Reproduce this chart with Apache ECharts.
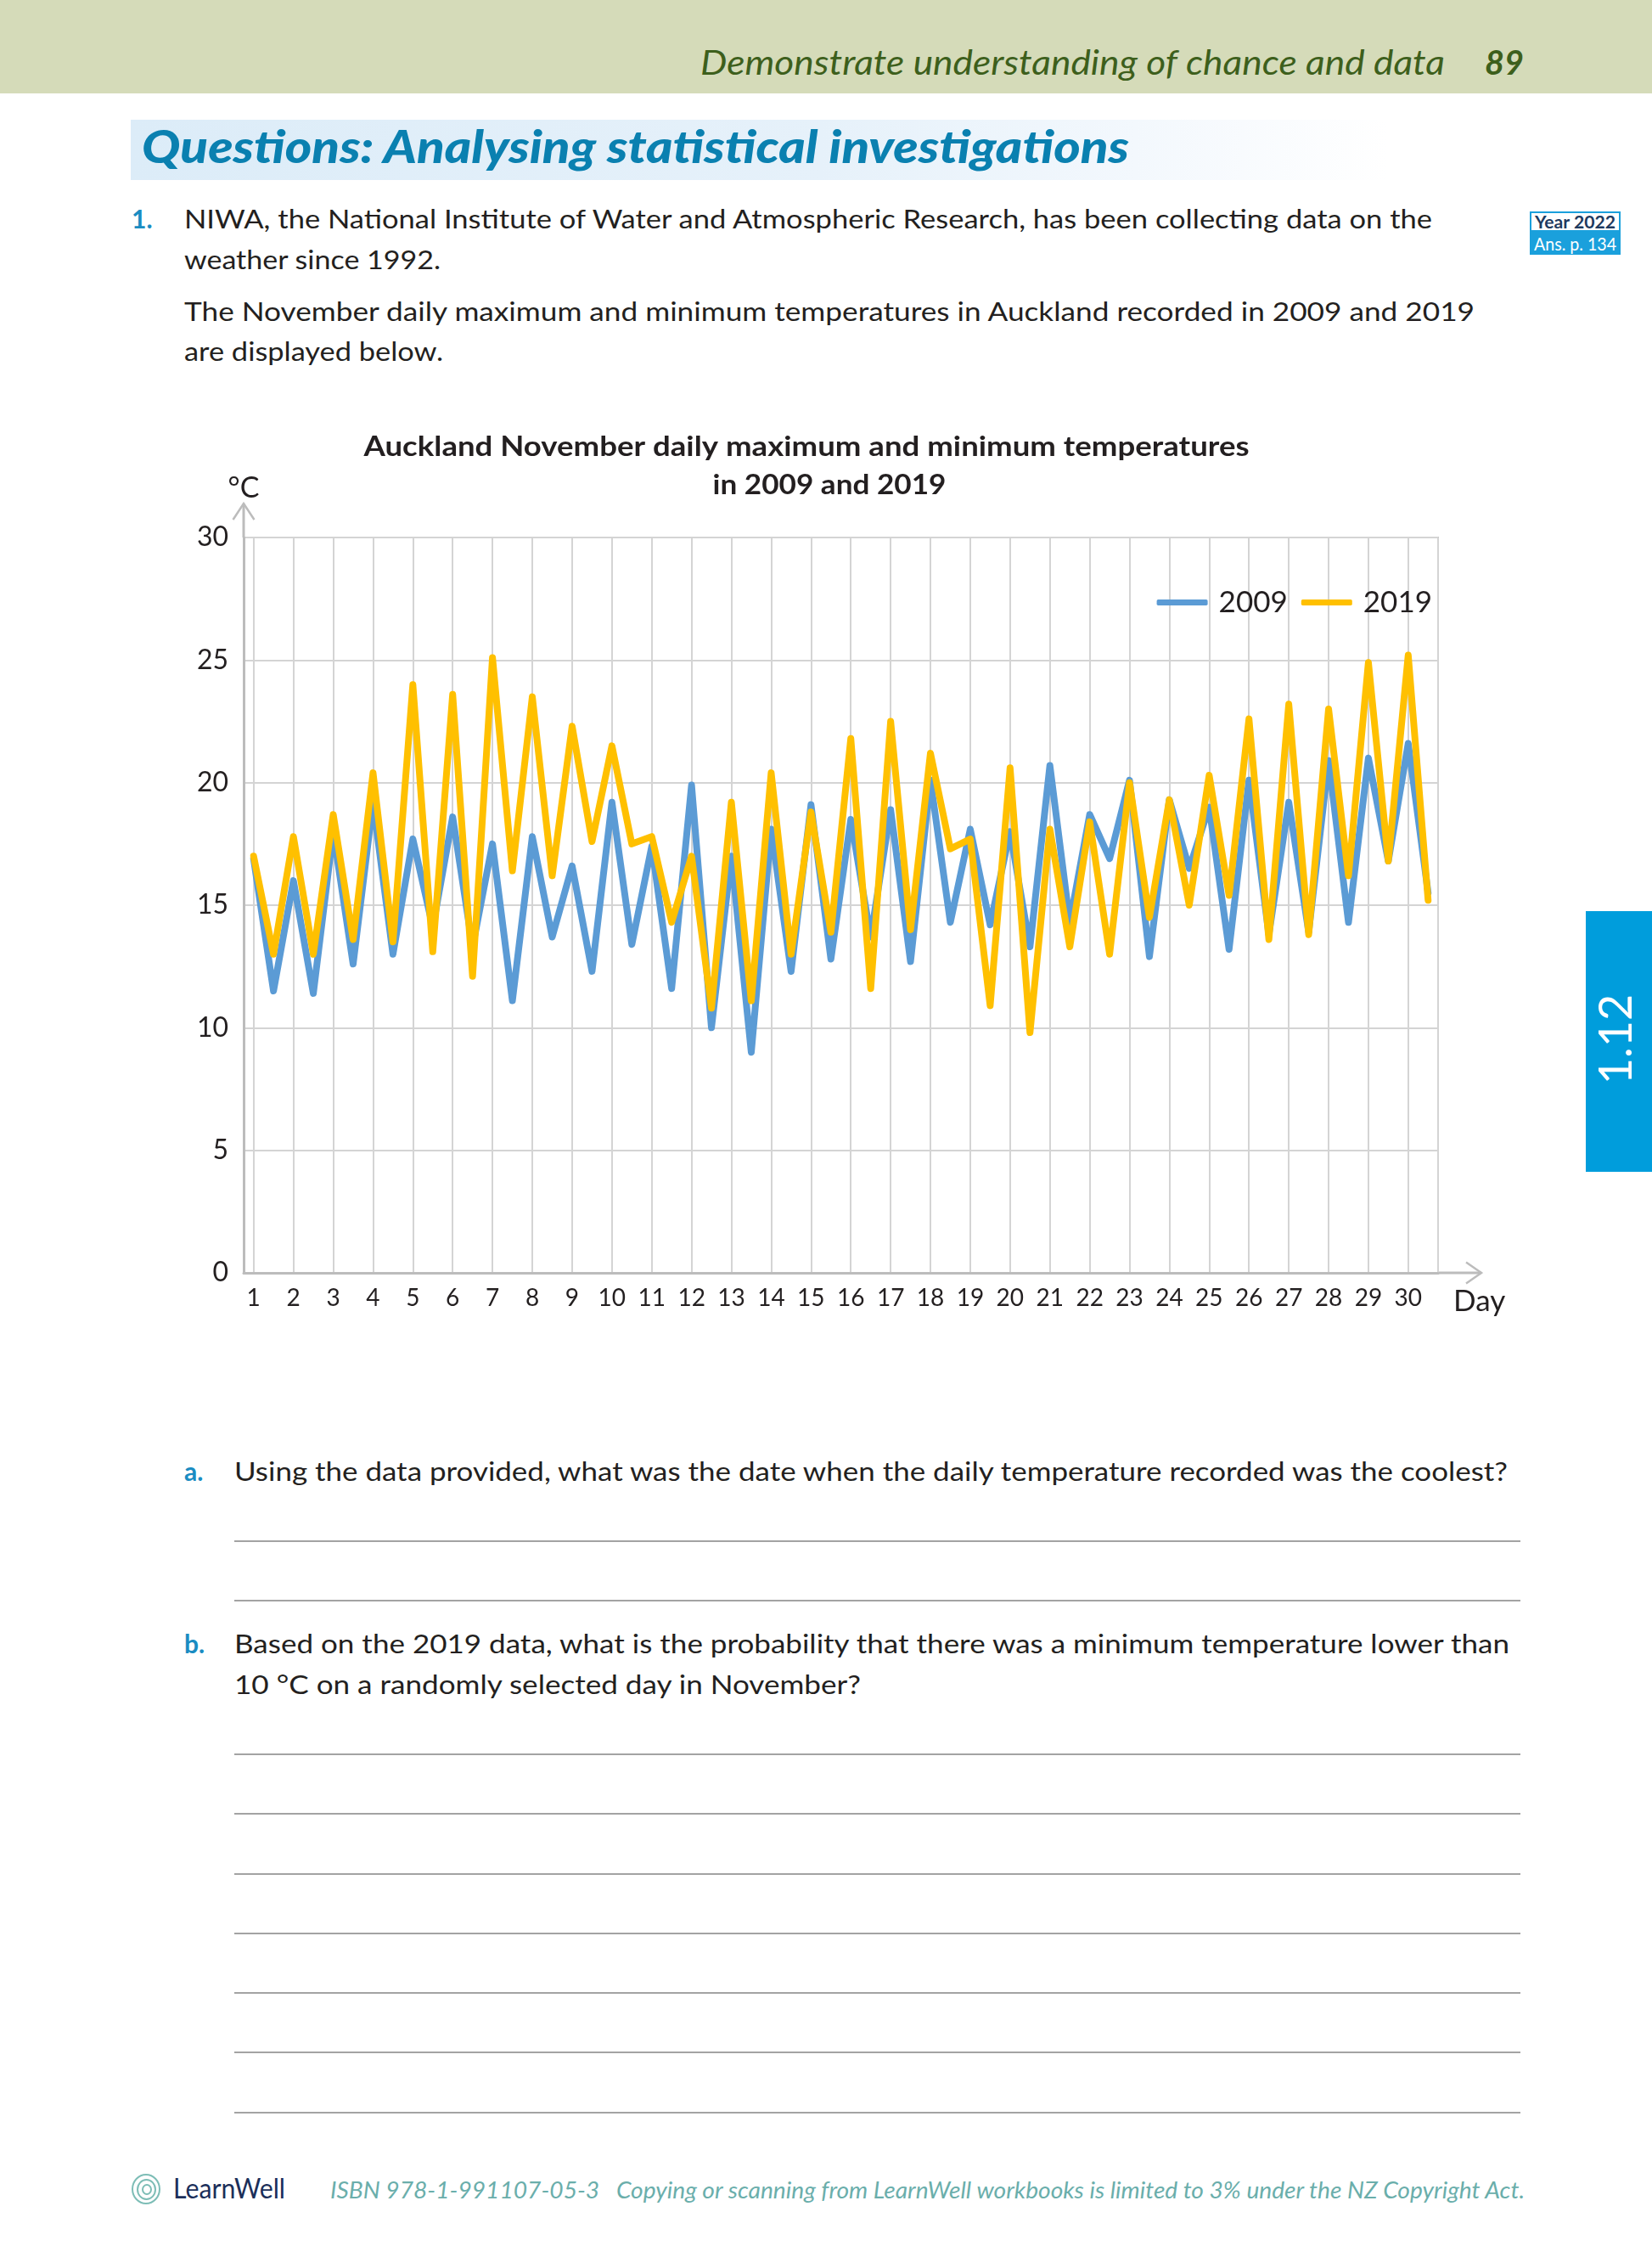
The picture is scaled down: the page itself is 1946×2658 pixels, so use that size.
<!DOCTYPE html>
<html>
<head>
<meta charset="utf-8">
<script src="https://cdn.jsdelivr.net/npm/echarts@6/dist/echarts.min.js"></script>
<style>
html,body{margin:0;padding:0;background:#fff;}
body{width:1946px;height:2658px;position:relative;overflow:hidden;font-family:Lato,"Open Sans",sans-serif;color:#231f20;}
.t{position:absolute;white-space:nowrap;line-height:1;transform-origin:0 0;}
.hdr{position:absolute;left:0;top:0;width:1946px;height:110px;background:#d5dbb9;}
.titlebox{position:absolute;left:154px;top:141px;width:1480px;height:71px;background:linear-gradient(to right,#dcecf8 0%,#e6f1fa 55%,#f3f8fd 80%,#ffffff 100%);}
.rule{position:absolute;left:276px;width:1515px;height:0;border-top:2px solid #a3a3a3;}
.blue{color:#1a8cc2;}
#chart{position:absolute;left:0;top:480px;width:1946px;height:1100px;}
.tab{position:absolute;left:1868px;top:1073px;width:78px;height:307px;background:#009ddc;}
</style>
</head>
<body>
<div class="hdr"></div>
<div class="t fit" data-w="877" style="left:825px;top:53px;font-size:40px;font-style:italic;color:#3d5f1c;">Demonstrate understanding of chance and data</div>
<div class="t fit" data-w="46" style="left:1749px;top:53px;font-size:40px;font-style:italic;font-weight:bold;color:#3d5f1c;">89</div>

<div class="titlebox"></div>
<div class="t fit" data-w="1163" style="left:167px;top:145px;font-size:54px;font-style:italic;font-weight:900;color:#0a80b0;">Questions: Analysing statistical investigations</div>

<div class="t blue" style="left:155px;top:242px;font-size:30px;font-weight:bold;">1.</div>
<div class="t fit" data-w="1470" style="left:217px;top:242px;font-size:30px;">NIWA, the National Institute of Water and Atmospheric Research, has been collecting data on the</div>
<div class="t fit" data-w="302" style="left:217px;top:290px;font-size:30px;">weather since 1992.</div>
<div class="t fit" data-w="1520" style="left:217px;top:351px;font-size:30px;">The November daily maximum and minimum temperatures in Auckland recorded in 2009 and 2019</div>
<div class="t fit" data-w="305" style="left:217px;top:398px;font-size:30px;">are displayed below.</div>

<div style="position:absolute;left:1802px;top:249px;width:103px;height:20px;border:2px solid #1aa0dc;background:#fff;"></div>
<div class="t fit" data-w="95" style="left:1808px;top:250px;font-size:21px;font-weight:bold;color:#1e3a5f;">Year 2022</div>
<div style="position:absolute;left:1802px;top:273px;width:107px;height:27px;background:#1aa0dc;"></div>
<div class="t fit" data-w="97" style="left:1807px;top:276px;font-size:22px;color:#fff;">Ans. p. 134</div>

<div class="tab"></div>
<div class="t" style="left:1902px;top:1224px;font-size:54px;color:#fff;transform:translate(-50%,-50%) rotate(-90deg);transform-origin:50% 50%;">1.12</div>

<div id="chart"></div>

<div class="t blue" style="left:217px;top:1717px;font-size:30px;font-weight:bold;">a.</div>
<div class="t fit" data-w="1500" style="left:276px;top:1717px;font-size:30px;">Using the data provided, what was the date when the daily temperature recorded was the coolest?</div>
<div class="rule" style="top:1814px;"></div>
<div class="rule" style="top:1884px;"></div>

<div class="t blue" style="left:217px;top:1920px;font-size:30px;font-weight:bold;">b.</div>
<div class="t fit" data-w="1502" style="left:276px;top:1920px;font-size:30px;">Based on the 2019 data, what is the probability that there was a minimum temperature lower than</div>
<div class="t fit" data-w="738" style="left:276px;top:1968px;font-size:30px;">10 °C on a randomly selected day in November?</div>
<div class="rule" style="top:2065px;"></div>
<div class="rule" style="top:2135px;"></div>
<div class="rule" style="top:2206px;"></div>
<div class="rule" style="top:2276px;"></div>
<div class="rule" style="top:2346px;"></div>
<div class="rule" style="top:2416px;"></div>
<div class="rule" style="top:2487px;"></div>

<div style="position:absolute;left:155px;top:2560px;width:34px;height:36px;border:2px solid #7dbdb6;border-radius:50%;box-sizing:border-box;"></div>
<div style="position:absolute;left:161px;top:2566px;width:23px;height:25px;border:2px solid #7dbdb6;border-radius:50%;box-sizing:border-box;"></div>
<div style="position:absolute;left:167px;top:2572px;width:12px;height:13px;border:2px solid #7dbdb6;border-radius:50%;box-sizing:border-box;"></div>
<div class="t fit" data-w="132" style="left:204px;top:2561px;font-size:32px;color:#1b2f5a;">LearnWell</div>
<div class="t fit" data-w="1407" style="left:389px;top:2565px;font-size:27px;font-style:italic;color:#6aaeab;">ISBN 978-1-991107-05-3&nbsp;&nbsp;&nbsp;Copying or scanning from LearnWell workbooks is limited to 3% under the NZ Copyright Act.</div>

<script>
// ---- data ----
const days = [1,2,3,4,5,6,7,8,9,10,11,12,13,14,15,16,17,18,19,20,21,22,23,24,25,26,27,28,29,30];
const xTickLabels = ['1','2','3','4','5','6','7','8','9','10','11','12','13','14','15','16','17','18','19','20','21','22','23','24','25','26','27','28','29','30'];
// daily maximum (plotted on the day) and minimum (plotted half a day later)
const max2009 = [16.9,16.0,18.0,19.2,17.7,18.6,17.5,17.8,16.6,19.2,17.4,19.9,17.0,18.1,19.1,18.5,18.9,20.1,18.1,18.0,20.7,18.7,20.1,19.3,19.0,20.1,19.2,20.9,21.0,21.6];
const min2009 = [11.5,11.4,12.6,13.0,14.1,13.3,11.1,13.7,12.3,13.4,11.6,10.0,9.0,12.3,12.8,13.7,12.7,14.3,14.2,13.3,14.3,16.9,12.9,16.5,13.2,13.8,13.9,14.3,16.8,15.5];
const max2019 = [17.0,17.8,18.7,20.4,24.0,23.6,25.1,23.5,22.3,21.5,17.8,17.0,19.2,20.4,18.8,21.8,22.5,21.2,17.7,20.6,18.1,18.4,20.0,19.3,20.3,22.6,23.2,23.0,24.9,25.2];
const min2019 = [13.0,13.0,13.6,13.5,13.1,12.1,16.4,16.2,17.6,17.5,14.3,10.8,11.1,13.0,13.9,11.6,14.0,17.3,10.9,9.8,13.3,13.0,14.5,15.0,15.4,13.6,13.8,16.2,16.8,15.2];
const seriesNames = ['2009','2019'];
const titleLine1 = 'Auckland November daily maximum and minimum temperatures';
const titleLine2 = 'in 2009 and 2019';

function zigzag(maxArr, minArr){
  const out = [];
  for (let i = 0; i < days.length; i++) {
    out.push([days[i], maxArr[i]]);
    out.push([days[i] + 0.5, minArr[i]]);
  }
  return out;
}

function fitTexts(){
  document.querySelectorAll('.fit').forEach(el => {
    const target = parseFloat(el.dataset.w);
    const w = el.getBoundingClientRect().width;
    if (w > 0) el.style.transform = 'scaleX(' + (target / w) + ')';
  });
}

function measure(text, font){
  const c = document.createElement('canvas').getContext('2d');
  c.font = font;
  return c.measureText(text).width;
}

function draw(){
  fitTexts();
  const FONT = 'Lato';
  const t1s = 1043 / measure(titleLine1, 'bold 33px Lato');
  const t2s = 275 / measure(titleLine2, 'bold 33px Lato');
  const chart = echarts.init(document.getElementById('chart'));
  const labelByDay = {};
  days.forEach((d, i) => { labelByDay[d] = xTickLabels[i]; });
  const option = {
    animation: false,
    textStyle: {fontFamily: FONT},
    grid: {left: 287, right: 252, top: 153, bottom: 81, show: true, borderColor: '#c4c4c4', borderWidth: 2, containLabel: false},
    legend: {
      data: seriesNames, right: 254, top: 207, icon: 'roundRect', itemWidth: 60, itemHeight: 7, itemGap: 16,
      textStyle: {fontSize: 35, color: '#231f20', fontFamily: FONT, padding: [0, 0, 0, 8]}
    },
    xAxis: {
      type: 'value', min: 0.75, max: 30.75, splitNumber: 30, minInterval: 1, maxInterval: 1,
      axisLine: {show: true, lineStyle: {color: '#bcbcbc', width: 3}},
      axisTick: {show: false},
      axisLabel: {
        fontSize: 28, color: '#231f20', margin: 16, fontFamily: FONT,
        formatter: v => { const r = Math.round(v); return Math.abs(v - r) < 1e-6 && labelByDay[r] ? labelByDay[r] : ''; }
      },
      splitLine: {show: true, lineStyle: {color: '#d4d4d4', width: 2}},
      name: 'Day', nameLocation: 'end', nameGap: 18,
      nameTextStyle: {fontSize: 35, color: '#231f20', fontFamily: FONT, verticalAlign: 'top', padding: [16, 0, 0, 0]}
    },
    yAxis: {
      type: 'value', min: 0, max: 30, interval: 5,
      axisLine: {show: true, lineStyle: {color: '#bcbcbc', width: 3}},
      axisTick: {show: false},
      axisLabel: {fontSize: 32, color: '#231f20', margin: 18, fontFamily: FONT},
      splitLine: {show: true, lineStyle: {color: '#d4d4d4', width: 2}},
      name: '°C', nameLocation: 'end', nameGap: 41,
      nameTextStyle: {fontSize: 34, color: '#231f20', fontFamily: FONT}
    },
    series: [
      {name: seriesNames[0], type: 'line', data: zigzag(max2009, min2009), symbol: 'none', z: 2,
       itemStyle: {color: '#5b9bd5'}, lineStyle: {color: '#5b9bd5', width: 8, join: 'round', cap: 'round'}},
      {name: seriesNames[1], type: 'line', data: zigzag(max2019, min2019), symbol: 'none', z: 3,
       itemStyle: {color: '#ffc000'}, lineStyle: {color: '#ffc000', width: 8, join: 'round', cap: 'round'}}
    ],
    graphic: [
      {type: 'text', x: 950, y: 46, scaleX: t1s,
       style: {text: titleLine1, fontSize: 33, fontWeight: 'bold', fontFamily: FONT, fill: '#231f20', align: 'center', verticalAlign: 'middle'}},
      {type: 'text', x: 977, y: 91, scaleX: t2s,
       style: {text: titleLine2, fontSize: 33, fontWeight: 'bold', fontFamily: FONT, fill: '#231f20', align: 'center', verticalAlign: 'middle'}}
    ]
  };
  chart.setOption(option);
  const tl = chart.convertToPixel({gridIndex: 0}, [0.75, 30]);
  const br = chart.convertToPixel({gridIndex: 0}, [30.75, 0]);
  const gs = {stroke: '#bcbcbc', lineWidth: 3, fill: null};
  const yTip = [tl[0], tl[1] - 40];
  const xTip = [br[0] + 51, br[1]];
  const g = option.graphic.concat([
    {type: 'polyline', shape: {points: [[tl[0], tl[1]], yTip]}, style: gs},
    {type: 'polyline', shape: {points: [[yTip[0] - 12.5, yTip[1] + 19], yTip, [yTip[0] + 12.5, yTip[1] + 19]]}, style: {stroke: '#bcbcbc', lineWidth: 2.5, fill: null}},
    {type: 'polyline', shape: {points: [[br[0], br[1]], xTip]}, style: gs},
    {type: 'polyline', shape: {points: [[xTip[0] - 18, xTip[1] - 12.5], xTip, [xTip[0] - 18, xTip[1] + 12.5]]}, style: {stroke: '#bcbcbc', lineWidth: 2.5, fill: null}}
  ]);
  chart.setOption({graphic: g});
}

if (document.fonts && document.fonts.ready) {
  document.fonts.load('bold 33px Lato').then(() => document.fonts.ready).then(draw);
} else {
  draw();
}
</script>
</body>
</html>
